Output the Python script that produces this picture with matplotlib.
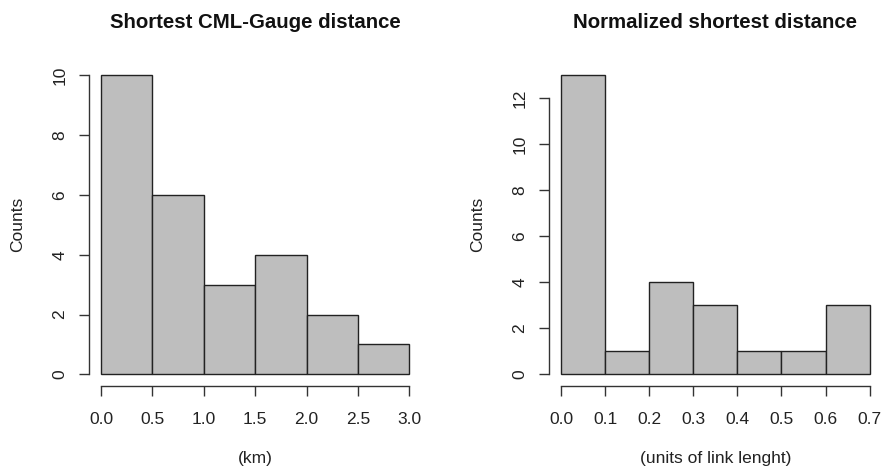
import numpy as np
import matplotlib
matplotlib.use("Agg")
import matplotlib.pyplot as plt

plt.rcParams['font.family'] = ['Liberation Sans', 'DejaVu Sans']

# histogram bins and counts
km_edges = [0.0, 0.5, 1.0, 1.5, 2.0, 2.5, 3.0]
km_counts = [10, 6, 3, 4, 2, 1]
norm_edges = [0.0, 0.1, 0.2, 0.3, 0.4, 0.5, 0.6, 0.7]
norm_counts = [13, 1, 4, 3, 1, 1, 3]

km_yticks = [0, 2, 4, 6, 8, 10]
norm_yticks = [0, 2, 4, 6, 8, 10, 12]

W, H = 882, 468
fig = plt.figure(figsize=(W / 100, H / 100), dpi=100)

bar_col = '#bebebe'
edge_col = '#222222'


def r_hist(rect, edges, counts, yticks, title, xlabel):
    ax = fig.add_axes(rect)
    edges = np.asarray(edges)
    widths = np.diff(edges)
    ax.bar(edges[:-1], counts, width=widths, align='edge',
           color=bar_col, edgecolor=edge_col, linewidth=1.0)
    # R-style 4% padding of the data range
    xr = edges[-1] - edges[0]
    ax.set_xlim(edges[0] - 0.04 * xr, edges[-1] + 0.04 * xr)
    ymax = max(counts)
    ax.set_ylim(-0.04 * ymax, ymax * 1.04)
    ax.set_xticks(edges)
    ax.set_xticklabels([f'{e:.1f}' for e in edges])
    ax.set_yticks(yticks)
    ax.set_yticklabels([str(t) for t in yticks], rotation=90, va='center')
    for s in ['top', 'right']:
        ax.spines[s].set_visible(False)
    ax.spines['bottom'].set_bounds(edges[0], edges[-1])
    ax.spines['left'].set_bounds(yticks[0], yticks[-1])
    for s in ['bottom', 'left']:
        ax.spines[s].set_color('#333333')
        ax.spines[s].set_linewidth(1.0)
    ax.tick_params(length=7.5, width=1.0, color='#333333', labelsize=12.5,
                   labelcolor='#222222')
    ax.tick_params(axis='x', pad=11)
    ax.tick_params(axis='y', pad=8)
    ax.patch.set_visible(False)

    left, bottom, width, height = rect
    fig.text(left + width / 2, 1 - 28.5 / H, title, ha='center', va='baseline',
             fontsize=14.7, fontweight='bold', color='#111111')
    fig.text(left + width / 2, 1 - 459 / H, xlabel, ha='center', va='center',
             fontsize=12.5, color='#222222')
    fig.text(left - 71 / W, bottom + height / 2, 'Counts', ha='center',
             va='center', rotation=90, fontsize=12.5, color='#222222')
    return ax


r_hist([88.7 / W, 81.7 / H, 332.9 / W, 323 / H], km_edges, km_counts,
       km_yticks, 'Shortest CML-Gauge distance', '(km)')
r_hist([548.7 / W, 81.7 / H, 333.3 / W, 323 / H], norm_edges, norm_counts,
       norm_yticks, 'Normalized shortest distance', '(units of link lenght)')

fig.savefig('out.png', dpi=100)
